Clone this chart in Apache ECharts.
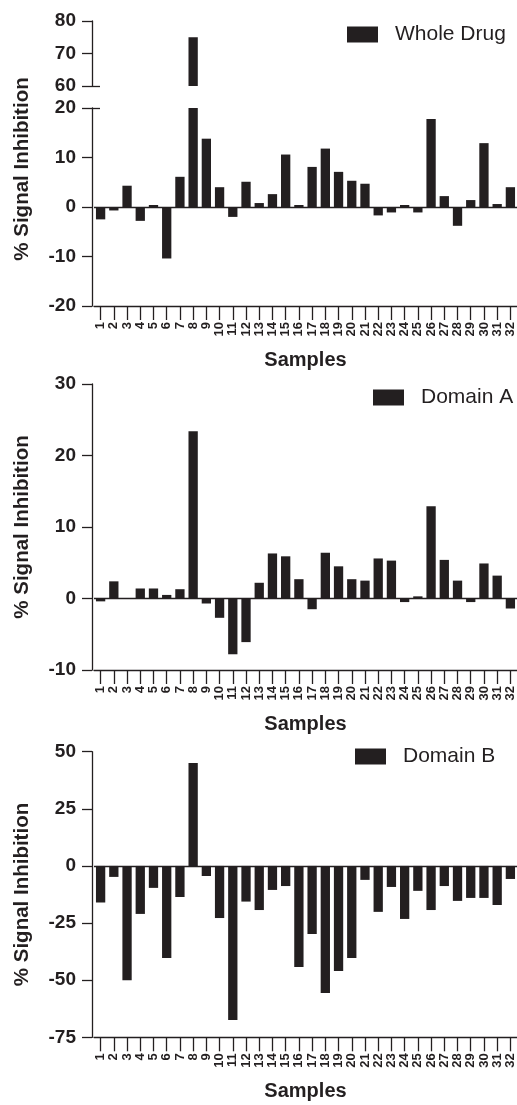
<!DOCTYPE html>
<html><head><meta charset="utf-8">
<script src="https://cdn.jsdelivr.net/npm/echarts@6/dist/echarts.min.js"></script>
<style>html,body{margin:0;padding:0;background:#fff}#c{width:517px;height:1105px}</style>
</head><body><div id="c"></div>
<script>
// ---- data ----
const samples = ['1','2','3','4','5','6','7','8','9','10','11','12','13','14','15','16',
                 '17','18','19','20','21','22','23','24','25','26','27','28','29','30','31','32'];
const wholeDrug = [-2.5, -0.7, 4.3, -2.8, 0.4, -10.4, 6.1, 75, 13.8, 4.0, -2.0, 5.1, 0.8, 2.6, 10.6, 0.4,
                   8.1, 11.8, 7.1, 5.3, 4.7, -1.7, -1.1, 0.4, -1.1, 17.8, 2.2, -3.8, 1.4, 12.9, 0.6, 4.0];
const domainA = [-0.4, 2.4, 0, 1.4, 1.4, 0.5, 1.3, 23.4, -0.7, -2.7, -7.8, -6.1, 2.2, 6.3, 5.9, 2.7,
                 -1.5, 6.4, 4.5, 2.7, 2.5, 5.6, 5.3, -0.5, 0.3, 12.9, 5.4, 2.5, -0.5, 4.9, 3.2, -1.4];
const domainB = [-16, -4.8, -50, -21, -9.6, -40.3, -13.6, 45, -4.4, -22.8, -67.4, -15.6, -19.3, -10.5, -8.8, -44.2,
                 -29.8, -55.6, -46, -40.3, -6.1, -20.1, -9.2, -23.2, -10.9, -19.3, -8.8, -15.3, -14, -14, -17.1, -5.7];
const seriesNames = ['Whole Drug', 'Domain A', 'Domain B'];
const yTitle = '% Signal Inhibition';
const xTitle = 'Samples';

// ---- style ----
const INK = '#231f20';
const FONT = '"Liberation Sans", Arial, Helvetica, sans-serif';
const LW = 1.3;

const grids = [
  {left: 94, top: 21, width: 425.6, height: 65},     // panel 1 upper (break)
  {left: 94, top: 108, width: 425.6, height: 198},   // panel 1 lower
  {left: 94, top: 384, width: 425.6, height: 286},   // panel 2
  {left: 94, top: 751.7, width: 425.6, height: 285.6} // panel 3
];

function xAx(gi, visible) {
  return {
    type: 'category', gridIndex: gi, data: samples, show: visible, boundaryGap: true,
    axisLine: {show: true, onZero: false, lineStyle: {color: INK, width: LW}},
    axisTick: {show: true, alignWithLabel: true, interval: 0, length: 14, lineStyle: {color: INK, width: LW}},
    axisLabel: {show: true, interval: 0, rotate: 90, margin: 16, color: INK, fontFamily: FONT, fontWeight: 'bold', fontSize: 13},
    name: visible ? xTitle : '', nameLocation: 'middle', nameGap: 44,
    nameTextStyle: {color: INK, fontFamily: FONT, fontWeight: 'bold', fontSize: 20}
  };
}
function yAx(gi, min, max, interval, name) {
  return {
    type: 'value', gridIndex: gi, min: min, max: max, interval: interval, offset: 2, position: 'left',
    splitLine: {show: false},
    axisLine: {show: true, lineStyle: {color: INK, width: LW}},
    axisTick: {show: true, length: 10, lineStyle: {color: INK, width: LW}},
    axisLabel: {margin: 16, color: INK, fontFamily: FONT, fontWeight: 'bold', fontSize: 19},
    name: name || '', nameLocation: 'middle', nameGap: 59,
    nameTextStyle: {color: INK, fontFamily: FONT, fontWeight: 'bold', fontSize: 20.5}
  };
}
function breakAx(gi, min, max, interval, v) {
  return {
    type: 'value', gridIndex: gi, min: min, max: max, interval: interval, offset: 2, position: 'left',
    splitLine: {show: false}, axisLine: {show: false}, axisLabel: {show: false},
    axisTick: {show: true, inside: true, length: 8, customValues: [v], lineStyle: {color: INK, width: LW}}
  };
}
const zeroLine = {
  silent: true, symbol: ['none', 'none'], label: {show: false}, animation: false,
  lineStyle: {color: INK, width: LW, type: 'solid'}, emphasis: {disabled: true},
  data: [{yAxis: 0}]
};
function bars(name, gi, data, withZero) {
  const s = {type: 'bar', name: name, xAxisIndex: gi, yAxisIndex: gi, data: data, barWidth: 9.3,
    itemStyle: {color: INK}, clip: true, silent: true};
  if (withZero) s.markLine = zeroLine;
  return s;
}
const legendPos = [{left: 347, top: 24}, {left: 373, top: 387}, {left: 355, top: 746}];

const option = {
  animation: false,
  backgroundColor: '#fff',
  grid: grids,
  xAxis: [xAx(0, false), xAx(1, true), xAx(2, true), xAx(3, true)],
  yAxis: [
    yAx(0, 60, 80, 10),
    yAx(1, -20, 20, 10),
    yAx(2, -10, 30, 10, yTitle),
    yAx(3, -75, 50, 25, yTitle),
    breakAx(0, 60, 80, 10, 60),
    breakAx(1, -20, 20, 10, 20)
  ],
  legend: seriesNames.map(function (n, i) {
    return {
      data: [n], left: legendPos[i].left, top: legendPos[i].top, padding: 0,
      itemWidth: 31, itemHeight: 16, icon: 'rect', selectedMode: false,
      textStyle: {fontFamily: FONT, fontSize: 21, color: INK, padding: [0, 0, 0, 12]}
    };
  }),
  graphic: [{
    type: 'text', x: 22.5, y: 169, rotation: Math.PI / 2, silent: true,
    style: {text: yTitle, fill: INK, font: 'bold 20.5px ' + FONT, textAlign: 'center', textVerticalAlign: 'middle'}
  }],
  series: [
    bars(seriesNames[0], 0, wholeDrug, false),
    bars(seriesNames[0], 1, wholeDrug, true),
    bars(seriesNames[1], 2, domainA, true),
    bars(seriesNames[2], 3, domainB, true)
  ]
};
const chart = echarts.init(document.getElementById('c'), null, {renderer: 'canvas'});
chart.setOption(option);
</script>
</body></html>
